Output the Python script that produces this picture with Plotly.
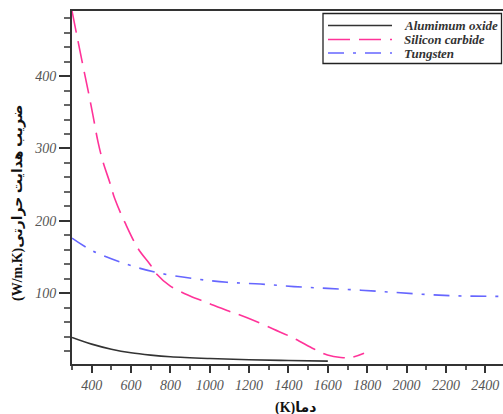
import plotly.graph_objects as go

# Data
al_x = [300, 400, 500, 600, 700, 800, 1000, 1200, 1400, 1600]
al_y = [38.8, 29.5, 22.5, 17.5, 14.3, 12.0, 9.5, 7.8, 6.8, 6.0]

sic_x = [300, 322, 356, 387, 407, 433, 458, 492, 518, 570, 637, 696, 731, 798, 900, 985,
         1088, 1190, 1325, 1428, 1530, 1598, 1666, 1717, 1784]
sic_y = [490, 460, 414, 373, 345, 308, 281, 253, 230, 197, 161, 140, 126, 110, 96, 87,
         76, 66, 50, 37.5, 22.7, 14.4, 11, 11, 17]

w_x = [300, 407, 577, 730, 918, 1088, 1258, 1428, 1598, 1768, 1938, 2108, 2278, 2490]
w_y = [176, 158, 140, 128.5, 120, 115, 112.5, 109, 106.5, 104, 101, 98, 96, 95.5]

names = ["Alumimum oxide", "Silicon carbide", "Tungsten"]
colors = ["#333333", "#FF3399", "#6666FF"]
dashes = ["solid", "22px,9px", "16px,9px,3px,9px"]
x_title = "\u202bدما(K)\u202c"
y_title = "\u202bضریب هدایت حرارتی(W/m.K)\u202c"

W, H = 503, 414
L, R, T, B = 72, 0, 11, 50
PW, PH = W - L - R, H - T - B


def px(x):
    return (x - L) / PW


def py(y):
    return (H - B - y) / PH


fig = go.Figure()
for xs, ys, n, c, d in [(al_x, al_y, names[0], colors[0], dashes[0]),
                        (sic_x, sic_y, names[1], colors[1], dashes[1]),
                        (w_x, w_y, names[2], colors[2], dashes[2])]:
    fig.add_trace(go.Scatter(x=xs, y=ys, mode="lines", name=n,
                             line=dict(color=c, width=1.6, dash=d, shape="spline")))

serif = "Liberation Serif, Times New Roman, serif"
tickfont = dict(family=serif, size=14, color="#555555", style="italic")

# legend drawn as a compact box (reference legend rows are tightly spaced)
shapes = [dict(type="rect", xref="paper", yref="paper", x0=px(323), x1=px(501.5),
               y0=py(63.5), y1=py(13.5), line=dict(color="#222222", width=1.3),
               fillcolor="white", layer="above")]
annotations = []
rows = [25.5, 39.5, 53]
for i, n in enumerate(names):
    shapes.append(dict(type="line", xref="paper", yref="paper", x0=px(328), x1=px(392),
                       y0=py(rows[i]), y1=py(rows[i]),
                       line=dict(color=colors[i], width=1.6, dash=dashes[i]), layer="above"))
    annotations.append(dict(text=n, xref="paper", yref="paper", x=px(402), y=py(rows[i]),
                            xanchor="left", yanchor="middle", showarrow=False,
                            font=dict(family=serif, size=13, color="#333333",
                                      style="italic", weight="bold")))

annotations += [
    dict(text=x_title, xref="paper", yref="paper", x=px(295), y=py(408),
         xanchor="center", yanchor="middle", showarrow=False,
         font=dict(family="Liberation Serif, DejaVu Sans", size=14, color="#111111", weight="bold")),
    dict(text=y_title, xref="paper", yref="paper", x=px(18), y=py(203),
         xanchor="center", yanchor="middle", showarrow=False, textangle=-90,
         font=dict(family="Liberation Serif, DejaVu Sans", size=14, color="#111111", weight="bold")),
]

fig.update_layout(
    width=W, height=H,
    margin=dict(l=L, r=R, t=T, b=B),
    paper_bgcolor="white", plot_bgcolor="white",
    showlegend=False,
    xaxis=dict(range=[300, 2490], tick0=400, dtick=200, ticks="outside", ticklen=7,
               tickwidth=1.5, tickcolor="#333333",
               showline=True, linecolor="#333333", linewidth=2, mirror=True,
               showgrid=False, zeroline=False, tickfont=tickfont,
               minor=dict(dtick=100, ticks="outside", ticklen=4, tickcolor="#555555", showgrid=False)),
    yaxis=dict(range=[2, 490], tickvals=[100, 200, 300, 400], ticks="outside", ticklen=11,
               tickwidth=1.5, tickcolor="#333333",
               showline=True, linecolor="#333333", linewidth=2,
               showgrid=False, zeroline=False, tickfont=tickfont,
               minor=dict(dtick=20, tick0=0, ticks="outside", ticklen=6, tickcolor="#666666", showgrid=False)),
    shapes=shapes,
    annotations=annotations,
)

fig.write_html("out.html", config={"displayModeBar": False},
               post_script="document.body.style.margin='0';document.body.style.overflow='hidden';")
